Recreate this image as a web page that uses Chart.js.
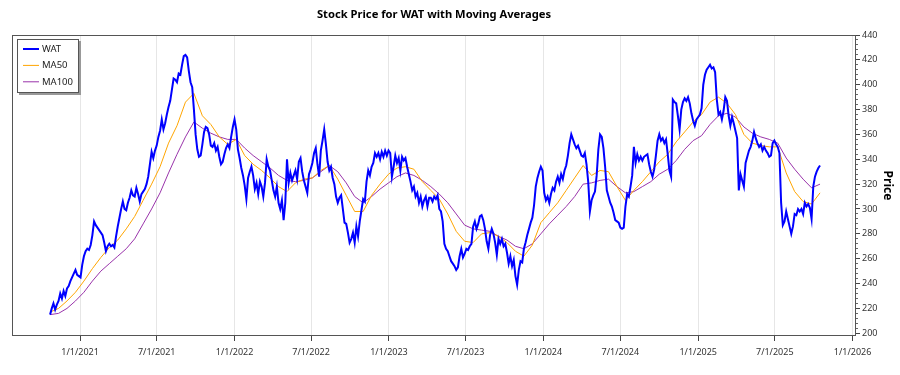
<!DOCTYPE html>
<html>
<head>
<meta charset="utf-8">
<script src="https://cdn.jsdelivr.net/npm/chart.js@4.4.1/dist/chart.umd.min.js"></script>
<style>
  html, body { margin: 0; padding: 0; background: #fff; }
</style>
</head>
<body>
<canvas id="chart" width="900" height="375"></canvas>
<script>
const chartTitle = 'Stock Price for WAT with Moving Averages';

// daily closes, one every 4 days
const watStart = '2020-10-22';
const watStepDays = 4;
const watClose = [
  215,220,224,219,223,226,232,228,234,230,
  236,238,242,245,248,251,247,246,245,255,
  262,266,268,267,271,279,290,287,285,283,
  281,279,273,266,270,272,270,271,269,278,
  286,293,300,306,300,299,305,309,315,311,
  310,317,312,306,312,314,316,320,326,336,
  346,341,347,351,358,363,372,364,369,376,
  382,387,396,405,
  404,402,409,408,416,423,424,422,411,402,
  398,380,360,348,342,343,352,362,366,365,
  360,351,350,353,347,350,342,336,338,344,
  349,352,349,358,366,372,364,348,341,333,
  327,319,308,325,330,334,327,316,321,312,
  322,318,310,321,340,334,331,323,315,310,
  318,305,300,307,291,305,340,321,329,323,
  327,331,324,338,341,330,323,
  318,313,328,332,337,345,349,336,326,347,
  355,364,352,338,331,334,325,320,310,305,
  309,311,300,289,288,281,273,276,281,273,
  286,278,290,299,308,306,322,331,327,334,
  337,345,342,345,340,346,342,347,343,347,
  345,326,334,343,337,341,331,342,339,341,
  334,328,322,315,318,310,313,305,310,302,
  307,310,302,309,309,306,310,
  308,311,300,298,290,272,268,266,262,258,
  256,254,251,253,262,268,261,264,268,267,
  270,272,286,290,284,288,294,295,291,284,
  274,268,279,284,280,273,263,276,272,276,
  270,272,265,256,262,254,259,246,239,251,
  258,257,268,273,279,284,289,293,303,318,
  325,330,334,331,313,307,310,305,312,317,
  315,322,326,321,328,324,331,
  335,343,353,360,356,352,349,351,347,343,
  342,345,336,322,298,307,311,314,327,348,
  360,358,349,334,315,310,305,302,297,291,
  290,289,285,284,285,302,312,310,318,327,
  350,337,344,339,342,339,342,343,344,336,
  330,326,332,343,355,360,355,357,353,356,
  344,331,326,388,386,385,375,364,380,386,
  389,387,390,385,377,371,367,
  372,374,376,381,400,408,412,414,416,413,
  414,410,388,376,378,372,379,390,387,375,
  367,374,369,363,357,315,328,323,318,337,
  342,347,350,355,362,357,353,350,352,347,
  350,347,345,342,343,353,355,352,350,345,
  305,287,290,298,292,286,280,286,296,295,
  300,298,300,296,305,302,304,301,292,318,
  326,330,333,335
];

// moving averages, one every 20 days
const maStepDays = 20;
const ma50 = [
  217,220,226,233,242,252,261,269,275,284,294,307,320,334,353,
  367,386,393,375,368,358,352,356,343,336,331,325,318,314,321,324,
  325,331,335,324,311,298,298,311,320,328,333,334,332,322,315,
  308,296,282,274,273,280,281,278,273,266,262,271,289,297,305,
  315,325,335,327,331,330,318,307,315,322,330,338,344,354,362,370,
  376,386,390,385,376,360,353,351,350,350,329,314,306,304,313
];
const ma100 = [
  215,216,220,226,233,242,250,256,262,268,276,288,300,313,329,
  344,358,370,365,361,358,356,356,349,343,338,333,327,323,322,323,
  325,330,335,330,321,310,305,310,316,321,326,329,327,323,318,
  312,305,296,287,284,283,282,278,275,270,268,272,280,288,295,
  302,310,320,321,323,324,318,313,314,318,322,328,332,339,348,355,
  359,368,375,377,374,366,361,358,356,353,341,332,324,317,320
];

const xMin = '2020-07-24';
const xMax = '2026-01-09';
const xTickDates = ['2021-01-01','2021-07-01','2022-01-01','2022-07-01','2023-01-01','2023-07-01',
                    '2024-01-01','2024-07-01','2025-01-01','2025-07-01','2026-01-01'];
const yMin = 197.8, yMax = 440;
const yTicks = [200,220,240,260,280,300,320,340,360,380,400,420,440];

const DAY = 86400000;
const t0 = Date.parse(watStart);
const watPoints = watClose.map((v, i) => ({ x: t0 + i * watStepDays * DAY, y: v }));
const ma50Points = ma50.map((v, j) => ({ x: t0 + j * maStepDays * DAY, y: v }));
const ma100Points = ma100.map((v, j) => ({ x: t0 + j * maStepDays * DAY, y: v }));

function fmtDate(ms) {
  const d = new Date(ms);
  return (d.getUTCMonth() + 1) + '/' + d.getUTCDate() + '/' + d.getUTCFullYear();
}

Chart.defaults.font.family = '"Noto Sans", "DejaVu Sans", sans-serif';

// title centred over the plot, frame around the plot, boxed legend top-left
const decorations = {
  id: 'decorations',
  afterDraw(chart) {
    const { ctx, chartArea: a } = chart;
    ctx.save();
    ctx.font = 'bold 11.2px "Noto Sans"';
    ctx.fillStyle = '#000';
    ctx.textAlign = 'center';
    ctx.textBaseline = 'middle';
    ctx.fillText(chartTitle, (a.left + a.right) / 2, 15);

    ctx.strokeStyle = '#555';
    ctx.lineWidth = 1;
    ctx.strokeRect(a.left + 0.5, a.top + 0.5, a.right - a.left - 1, a.bottom - a.top - 1);

    const bx = a.left + 5, by = a.top + 4, bw = 62, bh = 54;
    ctx.fillStyle = '#999';
    ctx.fillRect(bx + 2, by + 2, bw, bh);
    ctx.fillStyle = '#fff';
    ctx.fillRect(bx, by, bw, bh);
    ctx.strokeStyle = '#555';
    ctx.strokeRect(bx + 0.5, by + 0.5, bw - 1, bh - 1);
    ctx.font = '9.5px "Noto Sans"';
    ctx.textAlign = 'left';
    chart.data.datasets.forEach((ds, k) => {
      const y = by + 10 + k * 16.4;
      ctx.strokeStyle = ds.borderColor;
      ctx.lineWidth = ds.borderWidth;
      ctx.beginPath();
      ctx.moveTo(bx + 6, y);
      ctx.lineTo(bx + 22, y);
      ctx.stroke();
      ctx.fillStyle = '#222';
      ctx.fillText(ds.label, bx + 25, y);
    });
    ctx.restore();
  }
};

new Chart(document.getElementById('chart'), {
  type: 'line',
  data: {
    datasets: [
      { label: 'WAT', data: watPoints, borderColor: '#0000ff', borderWidth: 2, pointRadius: 0, tension: 0 },
      { label: 'MA50', data: ma50Points, borderColor: '#ffa500', borderWidth: 1, pointRadius: 0, tension: 0 },
      { label: 'MA100', data: ma100Points, borderColor: '#9933aa', borderWidth: 1, pointRadius: 0, tension: 0 }
    ]
  },
  options: {
    responsive: false,
    animation: false,
    devicePixelRatio: 1,
    layout: { padding: { left: 12, top: 35, right: 0, bottom: 0 } },
    plugins: {
      legend: { display: false },
      title: { display: false },
      tooltip: { enabled: false }
    },
    scales: {
      x: {
        type: 'linear',
        min: Date.parse(xMin),
        max: Date.parse(xMax),
        afterBuildTicks: s => { s.ticks = xTickDates.map(d => ({ value: Date.parse(d) })); },
        afterFit: s => { s.height = 39; },
        grid: { color: '#e6e6e6', tickColor: '#444', tickLength: 5 },
        border: { display: false },
        ticks: { callback: v => fmtDate(v), font: { size: 9 }, color: '#333', padding: 6, maxRotation: 0, autoSkip: false }
      },
      yMinor: {
        position: 'right',
        min: yMin, max: yMax,
        weight: 0,
        afterBuildTicks: s => {
          const t = [];
          for (let v = 200; v <= 440; v += 4) t.push({ value: v });
          s.ticks = t;
        },
        afterFit: s => { s.width = 0; },
        grid: { drawOnChartArea: false, tickLength: 2, tickColor: '#666' },
        border: { display: false },
        ticks: { display: false }
      },
      y: {
        position: 'right',
        min: yMin, max: yMax,
        weight: 1,
        afterBuildTicks: s => { s.ticks = yTicks.map(v => ({ value: v })); },
        afterFit: s => { s.width = 44; },
        grid: { drawOnChartArea: false, tickLength: 4, tickColor: '#444' },
        border: { display: false },
        ticks: { font: { size: 9 }, color: '#333', padding: 2 },
        title: { display: true, text: 'Price', font: { size: 12, weight: 'bold' }, color: '#000', padding: { top: 5, bottom: 0 } }
      }
    }
  },
  plugins: [decorations]
});
</script>
</body>
</html>
